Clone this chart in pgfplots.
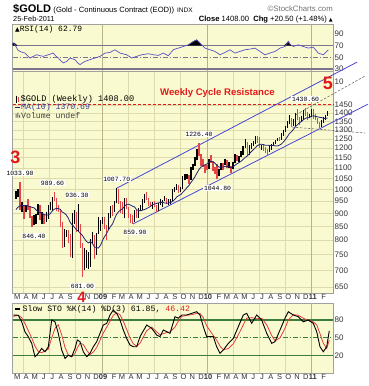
\documentclass[border=0pt]{standalone}
\usepackage{fontspec}
\setmainfont{Liberation Sans}
\setmonofont{Liberation Mono}
\newfontfamily\dejavu{DejaVu Sans}
\usepackage{pgfplots}
\usepackage{pgfplotstable}
\pgfplotsset{compat=1.18}

\definecolor{bg}{RGB}{250,250,208}
\definecolor{grd}{RGB}{222,218,172}
\definecolor{grdy}{RGB}{185,180,135}
\definecolor{frm}{RGB}{160,160,160}
\definecolor{rsiline}{RGB}{90,80,200}
\definecolor{rsilvl}{RGB}{125,115,145}
\definecolor{stogreen}{RGB}{60,125,60}
\definecolor{mared}{RGB}{225,25,25}
\definecolor{downbar}{RGB}{228,70,70}
\definecolor{chan}{RGB}{70,70,215}
\definecolor{manavy}{RGB}{35,35,115}
\definecolor{gdash}{RGB}{110,110,110}

% 10-week moving average of the weekly close
\pgfplotstableread{
i ma
0 915
1 925
2 930
3 932
4 932
5 931
6 930
7 927
8 924
9 922.3
10 913.8
11 906.2
12 903
13 899.5
14 895.3
15 893.1
16 893.6
17 898.3
18 909.3
19 916.6
20 919.8
21 918.7
22 916.3
23 905
24 900.9
25 893.9
26 881.6
27 864.4
28 854.7
29 847.2
30 837.9
31 832.4
32 824.3
33 817
34 805.6
35 796
36 790.6
37 794.3
38 789.1
39 776
40 774.7
41 772.6
42 781.5
43 798.1
44 811.8
45 822.3
46 836.7
47 848.7
48 858.7
49 877.9
50 895.9
51 906.3
52 913.1
53 918.3
54 928.4
55 936.7
56 936.8
57 933.2
58 928.8
59 925.7
60 914
61 911.3
62 910.2
63 913
64 915.4
65 919.1
66 923.4
67 928.6
68 935.9
69 937.6
70 940.2
71 942.4
72 944.6
73 944.3
74 942.3
75 940.9
76 942.3
77 944.3
78 949.6
79 957.2
80 967.5
81 972.9
82 978.1
83 987.6
84 996.8
85 1007.7
86 1017
87 1031
88 1043.2
89 1057.2
90 1074
91 1091.6
92 1103.3
93 1109.5
94 1114.9
95 1118.9
96 1128.1
97 1131.6
98 1128.8
99 1122.5
100 1110.8
101 1103.3
102 1103.2
103 1103.8
104 1106.6
105 1107.2
106 1104
107 1101.4
108 1104.9
109 1112.7
110 1119.9
111 1126.2
112 1132.3
113 1141.5
114 1151
115 1158.4
116 1169.1
117 1180.4
118 1190.8
119 1200.5
120 1212.4
121 1217.7
122 1220.6
123 1218.5
124 1214.5
125 1214.9
126 1214
127 1213.8
128 1213.7
129 1211.6
130 1210.9
131 1214.7
132 1221.4
133 1232.2
134 1245.2
135 1261.7
136 1278.2
137 1289.2
138 1302.3
139 1318
140 1329.7
141 1340.3
142 1348.9
143 1359.8
144 1367.9
145 1371.2
146 1372.3
147 1381.8
148 1382.8
149 1379.4
150 1377
151 1373.7
152 1372.4
153 1367.9
154 1366.8
155 1369.7
}\gold

\pgfplotsset{panel/.style={
  scale only axis, anchor=north west,
  axis background/.style={fill=bg},
  axis line style={frm, line width=0.6pt},
  major tick length=0pt, minor tick length=0pt,
  grid style={grd, line width=0.5pt},
  minor grid style={grd, line width=0.6pt},
  yticklabel pos=right,
  ticklabel style={font=\fontsize{8}{8}\selectfont, text=black!80, inner sep=1.5pt},
  /pgf/number format/assume math mode=true
}}

\begin{document}
\begin{tikzpicture}
\path[use as bounding box] (0pt,0pt) rectangle (368pt,-386pt);

% ---------------- RSI panel ----------------
\begin{axis}[panel, at={(12.5pt,-24.7pt)}, width=320.5pt, height=46.8pt,
  xmin=12.5, xmax=333, ymin=26.2, ymax=105,
  ytick={30,50,70,90}, xtick=\empty,
  minor xtick={23.18,49.31,75.73,127.99,154.1,180.5,232.8,258.9,285.3},
  xminorgrids,
  extra x ticks={102.14,206.95,311.8}, extra x tick labels={},
  extra x tick style={grid=major, major grid style={grdy, line width=0.7pt}}]
\addplot[rsilvl, line width=1.6pt] coordinates {(12.5,70)(333,70)};
\addplot[rsilvl, line width=1.6pt] coordinates {(12.5,30)(333,30)};
\addplot[rsilvl, line width=0.9pt, dash pattern=on 5pt off 2pt on 1pt off 2pt] coordinates {(12.5,50)(333,50)};
\addplot[fill=black, draw=black] coordinates {(12.5,70)(12.5,74)(14.5,74)(17,70)} -- cycle;
\addplot[fill=black, draw=black] coordinates {(187.5,70)(193.3,76.7)(196.7,79.4)(200,73.9)(201.5,70)} -- cycle;
\addplot[fill=black, draw=black] coordinates {(284.5,70)(288.3,76.7)(291,70)} -- cycle;
\addplot[rsiline, line width=0.7pt] coordinates {
(12.5,74)(14,73.9)(16,68)(18,62)(20,60)(22.5,58.5)(25,57.2)(27.5,53)(30,48.9)(33.3,51.7)(36.7,54.4)(40,52.8)(43.3,51.7)(48.3,54.4)(53.3,57.2)(56,52)(58.3,48.9)(61,44)(63.3,40.6)(66.7,43.3)(70,48.9)(75,46.1)(77.5,41)(80,37.8)(85,43.3)(90,46.1)(95,48.9)(100,51.7)(105,57.2)(110,58.3)(115,62.8)(120,57.2)(126.7,54.4)(131.7,48.9)(136.7,51.7)(141.7,54.4)(148.3,56.1)(153.3,54.4)(158.3,53.3)(163.3,57.2)(168.3,52.8)(173.3,62.8)(178.3,65.6)(183.3,68.3)(188.3,71.1)(193.3,76.7)(196.7,79.4)(200,73.9)(205,65.6)(210,62.8)(215,60)(220,54.4)(225,58.3)(230,62.8)(235,57.2)(240,60)(245,62.8)(250,63.9)(255,65.6)(260,60)(265,54.4)(270,57.2)(275,60)(280,65.6)(285,68.3)(288.3,76.7)(290,72)(293.3,68.3)(298.3,71.1)(303.3,68.3)(308.3,65.6)(313.3,67.2)(318.3,57.2)(323.3,54.4)(328.3,62.8)};
\end{axis}

% ---------------- main price panel (log price scale) ----------------
\begin{axis}[panel, at={(12.5pt,-71.5pt)}, width=320.5pt, height=221.5pt,
  xmin=-1.74, xmax=157.7,
  y coord trafo/.code={\pgfmathparse{log10(#1)}},
  y coord inv trafo/.code={\pgfmathparse{10^(#1)}},
  ymin=633.7, ymax=1681,
  ytick={650,700,750,800,850,900,950,1000,1050,1100,1150,1200,1250,1300,1350,1400,1450},
  yticklabels={650,700,750,800,850,900,950,1000,1050,1100,1150,1200,1250,1300,1350,1400,1450},
  ymajorgrids,
  xtick={0.643,5.071,9.357,13.786,18.071,22.5,26.929,35.643,39.929,43.357,48.786,52.786,57.214,61.5,65.929,70.214,74.643,79.071,83.357,87.786,92.071,95.5,100.929,104.929,109.357,113.643,118.071,122.357,126.786,131.214,135.5,139.929,144.214,147.643,153.071},
  xticklabels={M,A,M,J,J,A,S,N,D,\textbf{09},F,M,A,M,J,J,A,S,O,N,D,\textbf{10},F,M,A,M,J,J,A,S,O,N,D,\textbf{11},F},
  minor xtick={3.571,16.571,29.714,55.714,68.714,81.857,107.857,120.857,134},
  xminorgrids,
  extra x ticks={42.857,95,147.143}, extra x tick labels={},
  extra x tick style={grid=major, major grid style={grdy, line width=0.7pt}},
  xticklabel style={font=\fontsize{7.5}{7.5}\selectfont, inner sep=1pt},
  unbounded coords=jump,
  clip=false]
\addplot[mared, line width=1.2pt, dash pattern=on 3pt off 2pt] coordinates {(-1.74,1452)(157.7,1452)};
\addplot[chan, line width=0.8pt] coordinates {(50.25,1006)(169.65,1752)};
\addplot[chan, line width=0.8pt] coordinates {(58.2,859)(175.1,1456)};
\addplot[gdash, line width=0.6pt, dash pattern=on 2.5pt off 1.5pt] coordinates {(139.3,1390)(173.6,1648)};
\addplot[gdash, line width=0.6pt, dash pattern=on 2.5pt off 1.5pt] coordinates {(137.3,1316)(173.6,1282)};
% weekly high-low bars, week closing up
\addplot[black, line width=1.3pt] coordinates {
(0,960)(0,992)(0,nan)(1,966)(1,1003)(1,nan)(3,905)(3,948)(3,nan)(5,905)(5,935)(5,nan)
(9,855)(9,892)(9,nan)(10,858)(10,898)(10,nan)(11,894)(11,937)(11,nan)(13,860)(13,905)(13,nan)
(15,866)(15,906)(15,nan)(16,878)(16,932)(16,nan)(17,913)(17,948)(17,nan)(18,910)(18,969)(18,nan)
(24,777)(24,841)(24,nan)(25,812)(25,838)(25,nan)(28,740)(28,900)(28,nan)(29,860)(29,912)(29,nan)
(31,830)(31,936.3)(31,nan)(34,700)(34,772)(34,nan)(35,708)(35,765)(35,nan)(36,705)(36,760)(36,nan)
(37,712)(37,804)(37,nan)(38,786)(38,830)(38,nan)(40,750)(40,827)(40,nan)(41,820)(41,885)(41,nan)
(42,834)(42,874)(42,nan)(43,860)(43,884)(43,nan)(46,838)(46,900)(46,nan)(47,880)(47,928)(47,nan)
(49,904)(49,950)(49,nan)(50,940)(50,1007.7)(50,nan)(54,880)(54,962)(54,nan)(59,867)(59,915)(59,nan)
(61,883)(61,920)(61,nan)(62,908)(62,934)(62,nan)(63,912)(63,960)(63,nan)(64,944)(64,980)(64,nan)
(68,917)(68,946)(68,nan)(71,908)(71,940)(71,nan)(72,932)(72,959)(72,nan)(73,927)(73,956)(73,nan)
(74,950)(74,971)(74,nan)(76,933)(76,958)(76,nan)(77,939)(77,959)(77,nan)(78,948)(78,1000)(78,nan)
(79,987)(79,1011)(79,nan)(80,997)(80,1025)(80,nan)(82,990)(82,1011)(82,nan)(83,1000)(83,1062)(83,nan)
(84,1041)(84,1072)(84,nan)(85,1047)(85,1072)(85,nan)(87,1044)(87,1102)(87,nan)(88,1090)(88,1120)(88,nan)
(89,1111)(89,1155)(89,nan)(90,1136)(90,1196)(90,nan)(96,1095)(96,1145)(96,nan)(101,1059)(101,1094)(101,nan)
(102,1087)(102,1124)(102,nan)(104,1113)(104,1145)(104,nan)(106,1098)(106,1130)(106,nan)(108,1096)(108,1129)(108,nan)
(109,1121)(109,1167)(109,nan)(111,1127)(111,1160)(111,nan)(112,1151)(112,1182)(112,nan)(113,1164)(113,1211)(113,nan)
(114,1199)(114,1249)(114,nan)(116,1166)(116,1216)(116,nan)(117,1195)(117,1228)(117,nan)(118,1212)(118,1236)(118,nan)
(119,1222)(119,1265)(119,nan)(122,1190)(122,1215)(122,nan)(126,1179)(126,1212)(126,nan)(127,1191)(127,1220)(127,nan)
(128,1212)(128,1233)(128,nan)(129,1222)(129,1243)(129,nan)(130,1237)(130,1255)(130,nan)(132,1243)(132,1280)(132,nan)
(133,1266)(133,1301)(133,nan)(134,1290)(134,1322)(134,nan)(135,1310)(135,1349)(135,nan)(136,1332)(136,1388)(136,nan)
(138,1321)(138,1362)(138,nan)(139,1325)(139,1398)(139,nan)(142,1345)(142,1380)(142,nan)(143,1357)(143,1417)(143,nan)
(146,1371)(146,1392)(146,nan)(147,1377)(147,1424)(147,nan)(152,1316)(152,1359)(152,nan)(153,1340)(153,1374)(153,nan)
(154,1356)(154,1390)(154,nan)(155,1384)(155,1413)};
% weekly high-low bars, week closing down
\addplot[downbar, line width=1.3pt] coordinates {
(2,915)(2,1033.9)(2,nan)(4,878)(4,935)(4,nan)(6,913)(6,958)(6,nan)(7,881)(7,930)(7,nan)
(8,846.4)(8,890)(8,nan)(12,875)(12,932)(12,nan)(14,858)(14,899)(14,nan)(19,950)(19,989.6)(19,nan)
(20,910)(20,963)(20,nan)(21,906)(21,934)(21,nan)(22,849)(22,917)(22,nan)(23,774)(23,868)(23,nan)
(26,790)(26,835)(26,nan)(27,741)(27,820)(27,nan)(30,828)(30,905)(30,nan)(32,774)(32,860)(32,nan)
(33,681)(33,790)(33,nan)(39,737)(39,818)(39,nan)(44,839)(44,884)(44,nan)(45,802)(45,856)(45,nan)
(48,890)(48,932)(48,nan)(51,937)(51,1002)(51,nan)(52,902)(52,951)(52,nan)(53,896)(53,945)(53,nan)
(55,917)(55,961)(55,nan)(56,880)(56,927)(56,nan)(57,864)(57,897)(57,nan)(58,859.9)(58,892)(58,nan)
(60,880)(60,915)(60,nan)(65,954)(65,990)(65,nan)(66,929)(66,964)(66,nan)(67,925)(67,948)(67,nan)
(69,924)(69,949)(69,nan)(70,905)(70,935)(70,nan)(75,936)(75,965)(75,nan)(81,985)(81,1019)(81,nan)
(86,1023)(86,1065)(86,nan)(91,1160)(91,1226.4)(91,nan)(92,1110)(92,1170)(92,nan)(93,1105)(93,1145)(93,nan)
(94,1075)(94,1115)(94,nan)(95,1090)(95,1115)(95,nan)(97,1125)(97,1162)(97,nan)(98,1085)(98,1135)(98,nan)
(99,1071)(99,1104)(99,nan)(100,1044.8)(100,1120)(100,nan)(103,1089)(103,1123)(103,nan)(105,1100)(105,1137)(105,nan)
(107,1077)(107,1110)(107,nan)(110,1133)(110,1166)(110,nan)(115,1159)(115,1231)(115,nan)(120,1228)(120,1263)(120,nan)
(121,1200)(121,1262)(121,nan)(123,1186)(123,1218)(123,nan)(124,1176)(124,1206)(124,nan)(125,1157)(125,1194)(125,nan)
(131,1240)(131,1260)(131,nan)(137,1318)(137,1372)(137,nan)(140,1357)(140,1424)(140,nan)(141,1330)(141,1375)(141,nan)
(144,1380)(144,1430.6)(144,nan)(145,1360)(145,1407)(145,nan)(148,1365)(148,1424)(148,nan)(149,1355)(149,1392)(149,nan)
(150,1336)(150,1372)(150,nan)(151,1308)(151,1345)};
% MA(10)
\addplot[manavy, line width=0.8pt] table[x=i, y=ma] {\gold};
\end{axis}

% ---------------- Slow STO panel ----------------
\begin{axis}[panel, at={(12.5pt,-303pt)}, width=320.5pt, height=70pt,
  xmin=12.5, xmax=333, ymin=-9.1, ymax=108.6,
  ytick={20,50,80},
  xtick={17.3,26.2,34.8,43.7,52.3,61.2,70.1,78.7,87.6,96.2,103.1,114.1,122.1,131,139.6,148.5,157.1,166,174.9,183.5,192.4,201.1,208,218.9,226.9,235.8,244.4,253.3,261.9,270.8,279.7,288.3,297.2,305.9,312.8,323.7},
  xticklabels={M,A,M,J,J,A,S,O,N,D,\textbf{09},F,M,A,M,J,J,A,S,O,N,D,\textbf{10},F,M,A,M,J,J,A,S,O,N,D,\textbf{11},F},
  minor xtick={23.18,49.31,75.73,127.99,154.1,180.5,232.8,258.9,285.3},
  xminorgrids,
  extra x ticks={102.14,206.95,311.8}, extra x tick labels={},
  extra x tick style={grid=major, major grid style={grdy, line width=0.7pt}},
  xticklabel style={font=\fontsize{7.5}{7.5}\selectfont, inner sep=1pt}]
\addplot[stogreen, line width=1.3pt] coordinates {(12.5,80)(333,80)};
\addplot[stogreen, line width=1.3pt] coordinates {(12.5,20)(333,20)};
\addplot[stogreen, line width=0.8pt, dash pattern=on 5pt off 2pt on 1pt off 2pt] coordinates {(12.5,50)(333,50)};
\addplot[mared!85, line width=0.8pt] coordinates {
(13.3,86)(18.3,88)(21.7,84)(25,74)(28.3,62)(31.7,50)(35,36)(38.3,27)(41.7,25)(45,28)(48.3,31)(51.7,50)(55,66)(58.3,72)(61.7,55)(65,34)(68.3,21)(71.7,18)(75,24)(77.3,33)(80,41)(83.3,39)(86.7,29)(90,22)(93.3,26)(96.7,34)(100,46)(103.3,58)(106.7,68)(110,78)(113.3,88)(116.7,92)(120,89)(123.3,78)(126.7,64)(130,50)(133.3,40)(136.7,36)(140,41)(146.7,62)(151.7,68)(156.7,60)(160,55)(163.3,57)(166.7,59)(170,60)(175,68)(178.3,78)(181.7,86)(186.7,88)(191.7,89)(196.7,91)(200,91)(203.3,84)(206.7,70)(213.3,54)(216.7,46)(220,36)(223.3,30)(228.3,32)(233.3,40)(238.3,55)(243.3,72)(246.7,83)(251.7,84)(256.7,82)(261.7,83)(266.7,72)(271.7,54)(275,45)(280,50)(285,66)(288.3,80)(293.3,89)(298.3,88)(303.3,83)(308.3,79)(313.3,77)(316.7,72)(320,57)(323.3,41)(326.7,32)(329.3,46.4)};
\addplot[black, line width=0.9pt] coordinates {
(13.3,88.4)(18.3,88)(21.7,77)(25,60)(28.3,52)(31.7,40.7)(35,18.3)(38.3,24)(41.7,32.3)(45,26.7)(48.3,35)(51.7,80)(55,77)(58.3,57.6)(61.7,29.5)(65,15.5)(68.3,21)(71.7,18.3)(75,32.3)(77.3,46.4)(80,43.6)(83.3,26.7)(86.7,18.3)(90,24)(93.3,35)(96.7,43.6)(100,57.6)(103.3,71.6)(106.7,74.4)(110,88.4)(113.3,96.8)(116.7,91.2)(120,80)(123.3,63.2)(126.7,49)(130,38)(133.3,35)(136.7,35)(140,52)(146.7,71.6)(151.7,66)(156.7,54.8)(160,52)(163.3,63.2)(166.7,60.4)(170,57.6)(175,85.6)(178.3,83)(181.7,88.4)(186.7,88.4)(191.7,91.2)(196.7,94)(200,88.4)(203.3,68.8)(206.7,52)(213.3,52)(216.7,35)(220,24)(223.3,29.5)(228.3,40.7)(233.3,49)(238.3,68.8)(243.3,88.4)(246.7,91.2)(251.7,74.4)(256.7,88.4)(261.7,80)(266.7,57.6)(271.7,40.7)(275,43.6)(280,63.2)(285,83)(288.3,94)(293.3,88.4)(298.3,85.6)(303.3,77)(308.3,80)(313.3,74.4)(316.7,60.4)(320,35)(323.3,26.7)(326.7,35)(329.3,61.85)};
\end{axis}

% ---------------- texts ----------------
\begin{scope}[x=1pt,y=1pt]
\node[anchor=base west, inner sep=0, font=\bfseries\fontsize{11}{11}\selectfont] (t1) at (13,-12) {\$GOLD};
\node[anchor=base west, inner sep=0, font=\fontsize{7.6}{7.6}\selectfont] (t2) at ([xshift=2pt]t1.base east) {(Gold - Continuous Contract (EOD))};
\node[anchor=base west, inner sep=0, font=\fontsize{6.5}{6.5}\selectfont] at ([xshift=2.5pt]t2.base east) {INDX};
\node[anchor=base east, inner sep=0, font=\fontsize{7.8}{7.8}\selectfont, text=black!55] at (333,-11.5) {©StockCharts.com};
\node[anchor=base west, inner sep=0, font=\fontsize{7.3}{7.3}\selectfont] at (13,-21.5) {25-Feb-2011};
\node[anchor=base east, inner sep=0, font=\fontsize{7.6}{7.6}\selectfont] at (333,-21.5) {\textbf{Close} 1408.00 \ \textbf{Chg} +20.50 (+1.48\%) {\dejavu\fontsize{5}{5}\selectfont ▲}};
\node[anchor=west, inner sep=0, font=\ttfamily\fontsize{8}{8}\selectfont] at (15,-29.5) {{\dejavu\fontsize{6}{6}\selectfont ▲}RSI(14) 62.79};
\node[anchor=west, inner sep=0, font=\fontsize{8}{8}\selectfont, text=black!80] at (334.5,-82) {10};
\draw[black, line width=0.8pt] (16,-95.5)--(16,-102.5);
\draw[downbar, line width=0.8pt] (18.3,-96.5)--(18.3,-101.5);
\node[anchor=west, inner sep=0, font=\ttfamily\fontsize{8.6}{8.6}\selectfont] at (20.5,-99) {\$GOLD (Weekly) 1408.00};
\draw[manavy, line width=1.3pt] (15,-107.5)--(20,-107.5);
\node[anchor=west, inner sep=0, font=\ttfamily\fontsize{8.2}{8.2}\selectfont, text={rgb,255:red,60;green,60;blue,150}] at (21,-107.5) {MA(10) 1370.69};
\fill[black!60] (15.5,-117.5) rectangle (16.5,-114) (17.3,-117.5) rectangle (18.3,-112.5) (19.1,-117.5) rectangle (20.1,-115);
\node[anchor=west, inner sep=0, font=\ttfamily\fontsize{8.2}{8.2}\selectfont, text=black!75] at (21,-115.5) {Volume undef};
\node[text=mared, inner sep=0, font=\bfseries\fontsize{9.6}{9.6}\selectfont] at (217.5,-93.5) {Weekly Cycle Resistance};
\begin{scope}[every node/.style={fill=white, inner sep=0.6pt, font=\ttfamily\fontsize{6.4}{6.4}\selectfont}]
\node at (20,-173) {1033.90};
\node at (52.5,-183) {989.60};
\node at (77,-195) {936.30};
\node at (34,-236) {846.40};
\node at (82.5,-286) {681.00};
\node at (116.7,-179) {1007.70};
\node at (135,-232) {859.90};
\node at (199,-134) {1226.40};
\node at (217.5,-188) {1044.80};
\node at (305.5,-99) {1430.60};
\end{scope}
\node[text=mared, font=\bfseries\fontsize{18}{18}\selectfont, inner sep=0] at (15.5,-157) {3};
\node[text=mared, font=\bfseries\fontsize{18}{18}\selectfont, inner sep=0] at (328,-83) {5};
\node[text=mared, font=\bfseries\fontsize{15}{15}\selectfont, inner sep=0] at (81.5,-297) {4};
\draw[black, line width=1.3pt] (15,-309)--(20,-309);
\node[anchor=west, inner sep=0, font=\ttfamily\fontsize{8.2}{8.2}\selectfont] at (22.5,-309) {Slow STO \%K(14) \%D(3) 61.85, \textcolor{mared}{46.42}};
\end{scope}
\end{tikzpicture}
\end{document}
